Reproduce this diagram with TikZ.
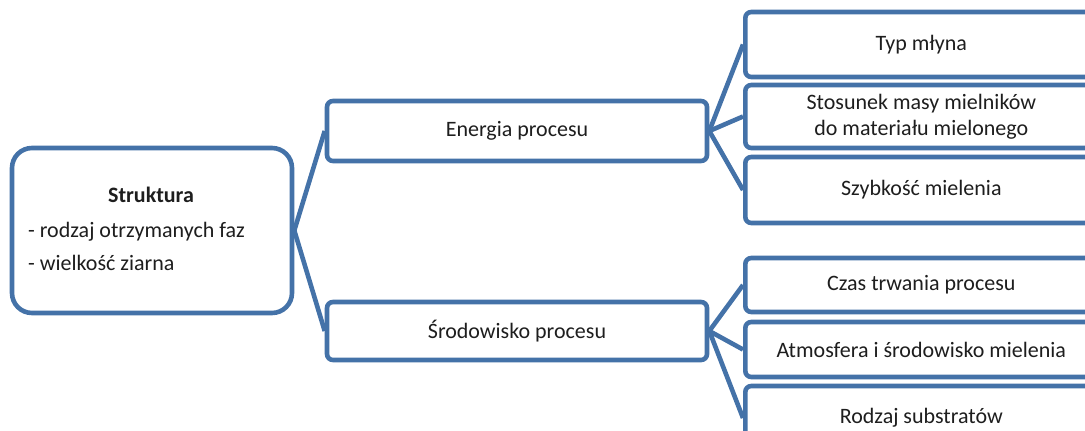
\documentclass[tikz,border=0pt]{standalone}
\usepackage{fontspec}
\setmainfont{Carlito}
\definecolor{boxblue}{RGB}{68,114,168}
\definecolor{ink}{RGB}{30,30,30}
\begin{document}
\begin{tikzpicture}[x=1pt,y=-1pt,
  box/.style={draw=boxblue, line width=4.6pt, fill=white, rounded corners=6pt,
    inner sep=0pt, text=ink, font=\fontsize{22}{26}\selectfont, align=center},
  leaf/.style={box, minimum width=352pt, anchor=west},
  txt/.style={inner sep=0pt, text=ink, font=\fontsize{22}{26}\selectfont},
  link/.style={draw=boxblue, line width=4.6pt, line join=round}]
\clip (0,0) rectangle (1085,431);

% root
\node[box, rounded corners=20pt, minimum width=280pt, minimum height=165pt] (root) at (152,230.5) {};
\node[txt, anchor=base] (t1) at (151,202) {\textbf{Struktura}};
\node[txt, anchor=base west] (t2) at (28,237) {- rodzaj otrzymanych faz};
\node[txt, anchor=base west] (t3) at (28,270) {- wielkość ziarna};

% middle level
\node[box, minimum width=380pt, minimum height=60pt] (en) at (517,131) {Energia procesu};
\node[box, minimum width=380pt, minimum height=58pt] (sr) at (517,331) {Środowisko procesu};

% leaves, energy branch
\node[leaf, minimum height=65pt] (typ) at (743,44.5) {Typ młyna};
\node[leaf, minimum height=63pt] (sto) at (743,116.5) {Stosunek masy mielników\\do materiału mielonego};
\node[leaf, minimum height=66pt] (szy) at (743,190) {Szybkość mielenia};

% leaves, environment branch
\node[leaf, minimum height=54pt] (cza) at (743,285) {Czas trwania procesu};
\node[leaf, minimum height=55pt] (atm) at (743,349.5) {Atmosfera i środowisko mielenia};
\node[leaf, minimum height=64pt] (rod) at (743,418) {Rodzaj substratów};

% connectors
\draw[link] (en.west) -- (root.east) -- (sr.west);
\draw[link] (en.east) -- (typ.west);
\draw[link] (en.east) -- (sto.west);
\draw[link] (en.east) -- (szy.west);
\draw[link] (sr.east) -- (cza.west);
\draw[link] (sr.east) -- (atm.west);
\draw[link] (sr.east) -- (rod.west);
\end{tikzpicture}
\end{document}
